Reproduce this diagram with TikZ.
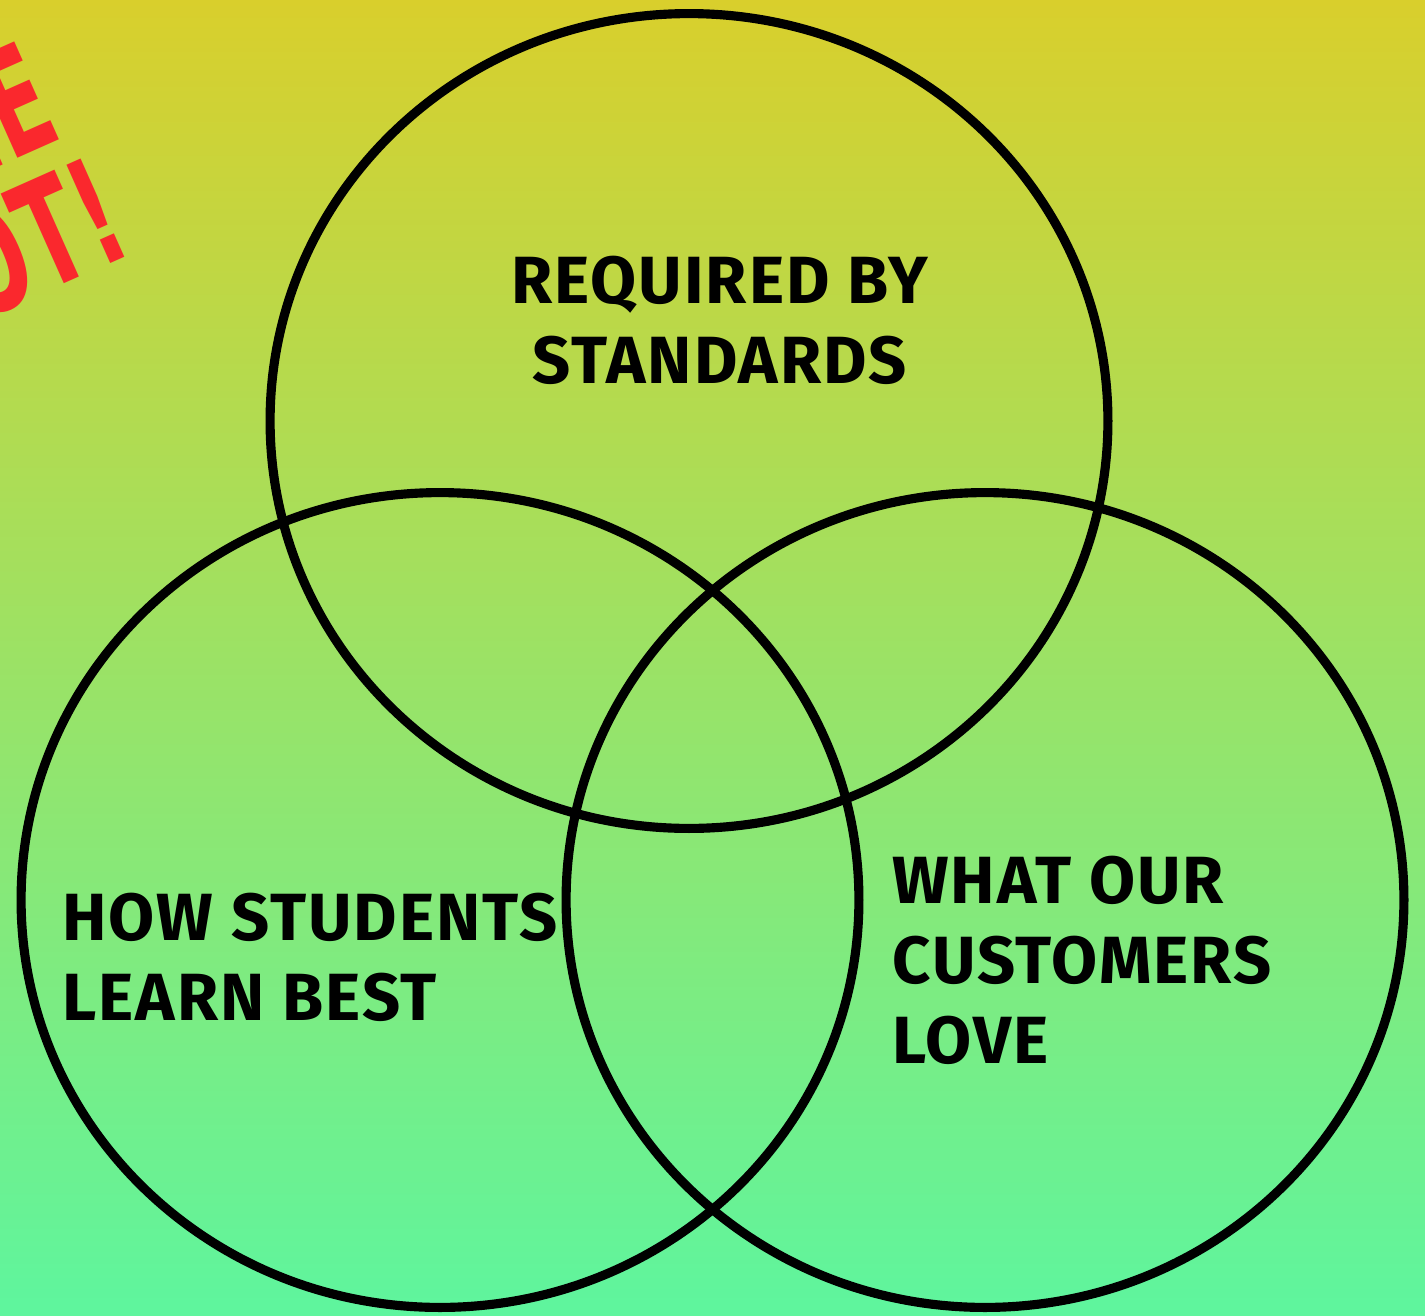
\documentclass[tikz,border=0pt]{standalone}
\usepackage{fontspec}
\usetikzlibrary{shapes.geometric}
\setmainfont{Fira Sans}
\newfontfamily\stampfont{DejaVu Sans Condensed}

\definecolor{bgtop}{RGB}{217,207,44}
\definecolor{bgbot}{RGB}{94,245,158}
\definecolor{stampred}{RGB}{250,40,45}

\begin{document}
\begin{tikzpicture}[x=0.02cm,y=-0.02cm,
  ring/.style={draw,ellipse,line width=5.2pt,minimum width=16.76cm,minimum height=16.3cm,inner sep=0pt},
  tag/.style={inner sep=0pt,align=left,font=\fontsize{38}{45.5}\selectfont\bfseries\addfontfeatures{LetterSpace=3}},
  stamp/.style={inner sep=0pt,rotate=24,text=stampred,font=\fontsize{84}{84}\stampfont\bfseries}]
\useasboundingbox (0,0) rectangle (1425,1315);
\clip (0,0) rectangle (1425,1315);
\shade[top color=bgtop,bottom color=bgbot] (0,0) rectangle (1425,1315);
    % red stamp in the corner
    \node[stamp,anchor=base east] (the) at (66,137) {\scalebox{0.66}[1]{THE}};
    \node[stamp,anchor=base east] (spot) at (136,252) {\scalebox{0.66}[1]{SPOT!}};
    % the three rings
    \node[ring] (standards) at (689,421) {};
    \node[ring] (students) at (440,900) {};
    \node[ring] (customers) at (985,900) {};
    % labels (anchored on the last baseline)
    \node[tag,align=center,anchor=base] (req) at (720,383) {REQUIRED BY\\STANDARDS};
    \node[tag,anchor=base west] (how) at (62,1020) {HOW STUDENTS\\LEARN BEST};
    \node[tag,anchor=base west] (what) at (892,1063) {WHAT OUR\\CUSTOMERS\\LOVE};
\end{tikzpicture}
\end{document}
